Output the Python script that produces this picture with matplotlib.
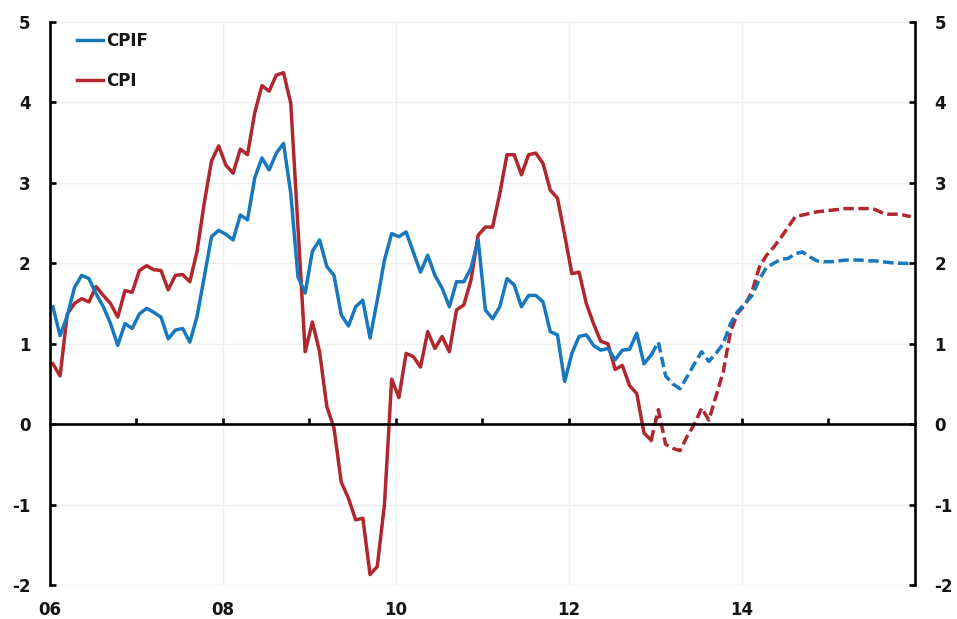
import matplotlib.pyplot as plt
import numpy as np

plt.rcParams['axes.unicode_minus'] = False

# monthly data, Jan 2006 - Dec 2015 (outcome until Dec 2012, then forecast)
cpif_outcome = [1.46, 1.10, 1.35, 1.70, 1.85, 1.81, 1.62, 1.46, 1.25, 0.98,
                1.25, 1.19, 1.37, 1.44, 1.39, 1.33, 1.06, 1.17, 1.19, 1.02,
                1.34, 1.83, 2.33, 2.41, 2.36, 2.29, 2.60, 2.54, 3.06, 3.31,
                3.16, 3.37, 3.49, 2.87, 1.83, 1.63, 2.15, 2.29, 1.96, 1.85,
                1.36, 1.22, 1.46, 1.54, 1.07, 1.54, 2.04, 2.37, 2.33, 2.39,
                2.14, 1.89, 2.10, 1.85, 1.69, 1.46, 1.77, 1.77, 1.94, 2.29,
                1.42, 1.31, 1.46, 1.81, 1.73, 1.46, 1.60, 1.60, 1.52, 1.15,
                1.11, 0.53, 0.88, 1.09, 1.11, 0.98, 0.92, 0.94, 0.80, 0.92,
                0.93, 1.13, 0.75, 0.86]
cpi_outcome = [0.75, 0.60, 1.37, 1.50, 1.56, 1.52, 1.71, 1.60, 1.50, 1.33,
               1.66, 1.64, 1.91, 1.97, 1.92, 1.91, 1.67, 1.85, 1.86, 1.77,
               2.15, 2.75, 3.27, 3.46, 3.22, 3.12, 3.42, 3.35, 3.87, 4.21,
               4.14, 4.34, 4.37, 3.99, 2.45, 0.90, 1.27, 0.90, 0.22, -0.05,
               -0.72, -0.92, -1.19, -1.17, -1.87, -1.77, -1.00, 0.56, 0.33, 0.88,
               0.84, 0.71, 1.15, 0.94, 1.09, 0.90, 1.42, 1.48, 1.79, 2.35,
               2.45, 2.45, 2.87, 3.35, 3.35, 3.10, 3.35, 3.37, 3.24, 2.91,
               2.81, 2.35, 1.87, 1.89, 1.50, 1.25, 1.03, 1.00, 0.68, 0.73,
               0.48, 0.38, -0.11, -0.20]
# forecast starts at the last outcome month (Dec 2012)
cpif_forecast = [0.86, 1.02, 0.60, 0.50, 0.44, 0.59, 0.75, 0.90, 0.78, 0.88,
                 1.00, 1.25, 1.40, 1.50, 1.60, 1.80, 1.95, 2.00, 2.05, 2.06,
                 2.12, 2.14, 2.08, 2.03, 2.02, 2.02, 2.03, 2.04, 2.04, 2.04,
                 2.03, 2.03, 2.02, 2.01, 2.00, 2.00, 2.00]
cpi_forecast = [-0.20, 0.18, -0.25, -0.30, -0.33, -0.15, 0.00, 0.20, 0.05, 0.35,
                0.65, 1.15, 1.38, 1.48, 1.65, 1.95, 2.10, 2.20, 2.32, 2.45,
                2.58, 2.60, 2.62, 2.64, 2.65, 2.66, 2.67, 2.68, 2.68, 2.68,
                2.68, 2.67, 2.63, 2.61, 2.61, 2.60, 2.58]

year_labels = ['06', '08', '10', '12', '14']
start_year = 2006

BLUE = '#1878be'
RED = '#b0272d'
TXT = '#151515'

n_out = len(cpif_outcome)
x_out = start_year + (np.arange(n_out) + 0.4) / 12
x_fc = start_year + (np.arange(n_out - 1, n_out - 1 + len(cpif_forecast)) + 0.4) / 12

fig = plt.figure(figsize=(9.57, 6.19), dpi=100)
ax = fig.add_axes([50 / 957, 1 - 585 / 619, 865 / 957, 563 / 619])

lw = 2.5
ax.plot(x_out, cpif_outcome, color=BLUE, lw=lw, label='CPIF', zorder=4)
ax.plot(x_out, cpi_outcome, color=RED, lw=lw, label='CPI', zorder=3)
ax.plot(x_fc, cpif_forecast, color=BLUE, lw=lw, ls=(0, (3, 1.3)), zorder=4)
ax.plot(x_fc, cpi_forecast, color=RED, lw=lw, ls=(0, (3, 1.3)), zorder=3)

ax.set_xlim(start_year, start_year + 10)
ax.set_ylim(-2, 5)

# grid
for yv in range(-2, 6):
    ax.axhline(yv, color='#efefef', lw=1, zorder=0)
for xv in range(start_year + 2, start_year + 10, 2):
    ax.axvline(xv, color='#efefef', lw=1, zorder=0)

# spines: x axis sits on zero
ax.spines['top'].set_visible(False)
ax.spines['bottom'].set_position(('data', 0))
for s in ['bottom', 'left', 'right']:
    ax.spines[s].set_linewidth(1.9)
    ax.spines[s].set_color('black')
    ax.spines[s].set_zorder(5)

ax.set_xticks(range(start_year + 1, start_year + 10))
ax.tick_params(axis='x', direction='in', length=4, width=1.9, labelbottom=False)
for i, lab in enumerate(year_labels):
    ax.text(start_year + 2 * i, -0.028, lab, transform=ax.get_xaxis_transform(),
            ha='center', va='top', fontsize=12, fontweight='bold', color=TXT)

ax.set_yticks(range(-2, 6))
ax.tick_params(axis='y', direction='in', length=4, width=1.9, labelsize=12,
               labelcolor=TXT, left=True, right=True, labelleft=True,
               labelright=True, pad=14)
for t in ax.get_yticklabels():
    t.set_fontweight('bold')

leg = ax.legend(loc='upper left', bbox_to_anchor=(0.031, 0.983), frameon=False,
                handlelength=1.6, handletextpad=0.15, labelspacing=1.35,
                borderpad=0, borderaxespad=0,
                prop={'size': 12, 'weight': 'bold'})
for t in leg.get_texts():
    t.set_color(TXT)

fig.savefig('out.png', dpi=100)
